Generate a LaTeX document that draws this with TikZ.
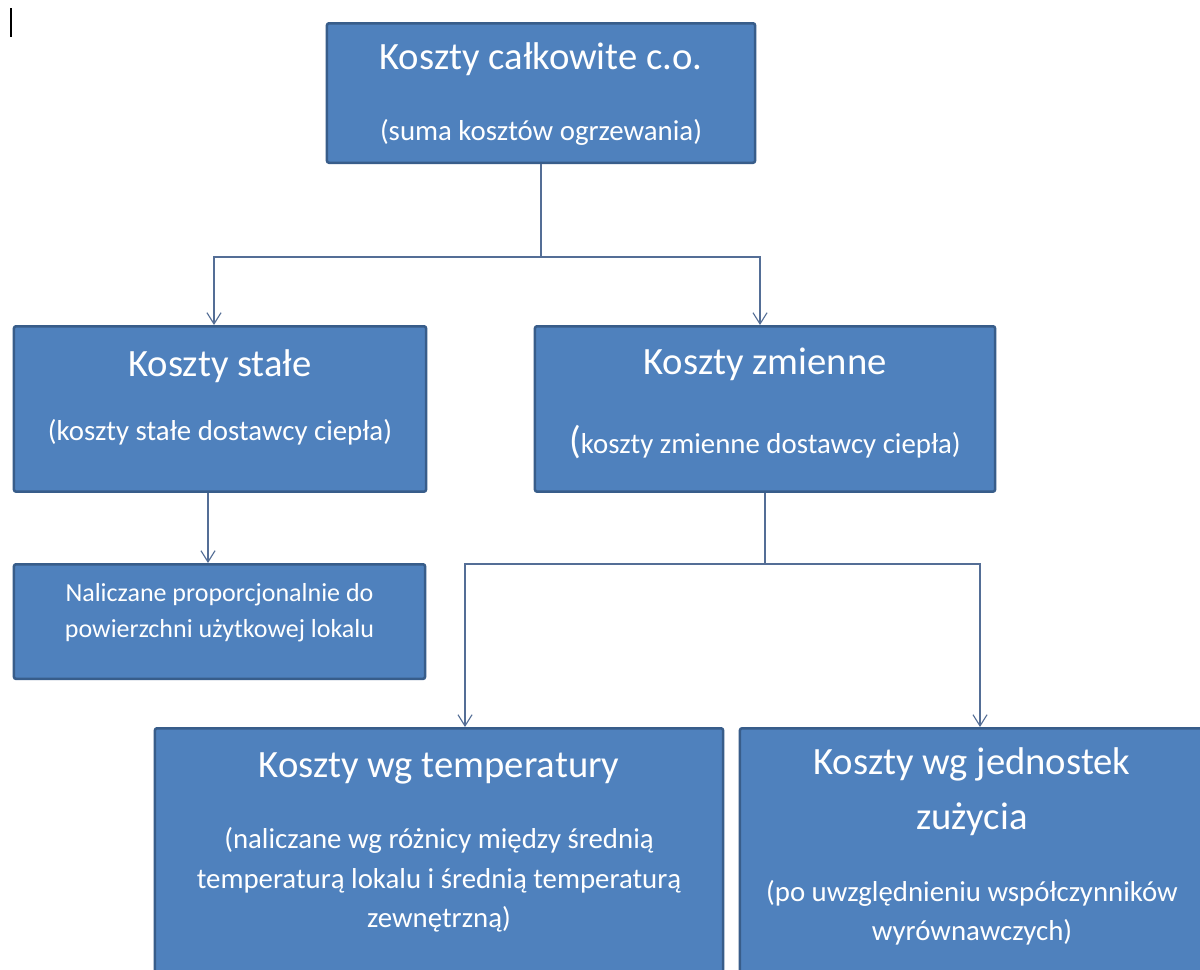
\documentclass[tikz,border=0pt]{standalone}
\usepackage{fontspec}
\setmainfont{Carlito}
\usetikzlibrary{arrows.meta,calc}

\definecolor{boxfill}{RGB}{79,129,189}
\definecolor{boxedge}{RGB}{56,93,138}
\definecolor{linkcol}{RGB}{84,110,150}

\newcommand{\ttlfont}{\fontsize{27.5}{33}\selectfont}
\newcommand{\subtxtfont}{\fontsize{20.5}{28}\selectfont}
\newcommand{\notefont}{\fontsize{18.5}{26}\selectfont}

\begin{document}
\begin{tikzpicture}[x=0.025cm,y=-0.025cm,
	costbox/.style={draw=boxedge,fill=boxfill,line width=1.8pt,rounded corners=1.5pt,
		text=white,font=\subtxtfont,align=center,anchor=north,inner xsep=0pt,inner ysep=0pt},
	link/.style={draw=linkcol,line width=0.8pt},
	linkarrow/.style={link,-{Straight Barb[length=8pt,width=10pt]}}]

	\fill[white] (0,0) rectangle (1200,969);
	\useasboundingbox (0,0) rectangle (1200,969);
	\clip (0,0) rectangle (1200,969);

	\draw[line width=1.3pt] (11,8) -- (11,37);

	\node[costbox,minimum width=10.7cm,text height=83.6pt,text depth=15.6pt] (total) at (541,22)
		{{\ttlfont Koszty całkowite c.o.}\\[23pt](suma kosztów ogrzewania)};
	\node[costbox,minimum width=10.3cm,text height=81.5pt,text depth=36.1pt] (stale) at (220,325)
		{{\ttlfont Koszty stałe}\\[18pt](koszty stałe dostawcy ciepła)};
	\node[costbox,minimum width=11.5cm,text height=90.7pt,text depth=26.9pt] (zmienne) at (765,325)
		{{\ttlfont Koszty zmienne}\\[28.7pt]{\ttlfont (}koszty zmienne dostawcy ciepła)};
	\node[costbox,font=\notefont,minimum width=10.275cm,text height=52.4pt,text depth=29.1pt] (nalicz) at (219.5,563)
		{Naliczane proporcjonalnie do\\powierzchni użytkowej lokalu};
	\node[costbox,minimum width=14.2cm,text height=141.7pt,text depth=51.7pt] (temp) at (439,727)
		{{\ttlfont Koszty wg temperatury}\\[23pt](naliczane wg różnicy między średnią\\temperaturą lokalu i średnią temperaturą\\zewnętrzną)};
	\node[costbox,minimum width=11.6cm,text height=150.9pt,text depth=42.5pt] (jedn) at (972,727)
		{{\ttlfont Koszty wg jednostek}\\[11pt]{\ttlfont zużycia}\\[23pt](po uwzględnieniu współczynników\\wyrównawczych)};

	\coordinate (fork1) at (541,257);
	\coordinate (fork2) at (765,564);

	\draw[link] (total.south) -- (fork1);
	\draw[linkarrow] (fork1) -| ($(stale.north)+(-6,0)$);
	\draw[linkarrow] (fork1) -| ($(zmienne.north)+(-5,0)$);

	\coordinate (s1) at ($(stale.south)+(-12,0)$);
	\draw[linkarrow] (s1) -- (nalicz.north -| s1);

	\draw[link] (zmienne.south) -- (fork2);
	\draw[linkarrow] (fork2) -| ($(temp.north)+(26,0)$);
	\draw[linkarrow] (fork2) -| ($(jedn.north)+(8,0)$);

\end{tikzpicture}
\end{document}
